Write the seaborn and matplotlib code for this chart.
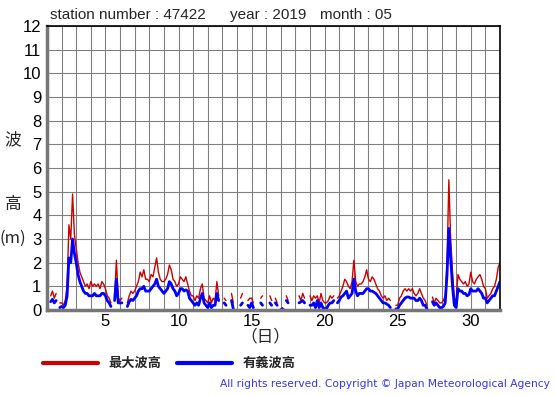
import numpy as np
import pandas as pd
import matplotlib
matplotlib.use("Agg")
import matplotlib.pyplot as plt
from matplotlib.lines import Line2D
import seaborn as sns

N = np.nan

# === Data: 3-hourly readings, day 1 00h .. day 32 00h (nan = missing) ===
# maximum wave height (m)
max_wave = [
    N, N, 0.6, 0.8, 0.5, 0.7, N, 0.3,            # 1
    0.3, 0.2, 0.4, 1.0, 3.6, 3.0, 4.9, 3.2,      # 2
    2.6, 2.0, 1.6, 1.4, 1.2, 1.0, 1.1, 0.9,      # 3
    1.2, 1.0, 1.1, 1.0, 1.1, 0.9, 1.2, 1.1,      # 4
    0.9, 0.6, 0.5, 0.3, N, 0.6, 2.1, 0.5,        # 5
    0.4, 0.5, N, N, 0.3, 0.6, 0.8, 0.7,          # 6
    0.8, 1.0, 1.2, 1.6, 1.4, 1.7, 1.3, 1.3,      # 7
    1.2, 1.5, 1.4, 1.8, 2.2, 1.6, 1.3, 1.2,      # 8
    1.2, 1.3, 1.5, 1.9, 1.7, 1.3, 1.2, 1.0,      # 9
    1.1, 1.4, 1.3, 1.2, 1.4, 1.1, 0.8, 0.6,      # 10
    0.6, 0.4, 0.6, 0.5, 0.9, 1.1, 0.5, 0.4,      # 11
    0.3, 0.6, 0.3, 0.5, 0.4, 1.2, 0.6, N,        # 12
    N, 0.5, 0.4, N, N, 0.7, 0.3, N,              # 13
    N, N, 0.5, 0.7, N, N, 0.4, 0.5,              # 14
    0.5, 0.3, N, N, N, 0.5, 0.6, N,              # 15
    N, N, 0.6, 0.4, N, 0.5, 0.3, N,              # 16
    0.05, 0.1, N, 0.6, 0.4, N, N, N,             # 17
    N, N, 0.6, 0.4, 0.7, 0.5, N, N,              # 18
    0.6, 0.4, 0.6, 0.5, 0.6, 0.3, 0.7, 0.4,      # 19
    0.3, 0.3, 0.4, 0.6, 0.5, 0.6, N, 0.5,        # 20
    0.6, 0.8, 1.0, 1.3, 1.2, 1.0, 0.9, 1.2,      # 21
    2.1, 1.2, 1.0, 1.1, 1.1, 1.2, 1.4, 1.7,      # 22
    1.3, 1.2, 1.4, 1.3, 1.1, 0.9, 0.8, 0.6,      # 23
    0.5, 0.6, 0.4, 0.5, 0.4, N, N, 0.2,          # 24
    0.2, 0.5, 0.6, 0.8, 0.9, 0.8, 0.9, 0.8,      # 25
    0.9, 0.7, 0.6, 0.7, 0.9, 0.7, 0.5, 0.4,      # 26
    0.2, N, N, 0.55, 0.3, 0.5, 0.4, 0.3,         # 27
    0.3, 0.4, 0.6, 2.0, 5.5, 3.0, 1.6, 0.5,      # 28
    0.4, 1.5, 1.3, 1.2, 1.1, 1.2, 1.0, 1.1,      # 29
    1.6, 1.2, 1.1, 1.3, 1.4, 1.5, 1.3, 1.0,      # 30
    0.9, 0.5, 0.6, 0.7, 0.9, 1.0, 1.3, 1.8,      # 31
    2.0,
]

# significant wave height (m)
sig_wave = [
    N, N, 0.35, 0.45, 0.3, 0.4, N, 0.1,          # 1
    0.15, 0.1, 0.2, 0.6, 2.2, 2.0, 3.0, 2.4,     # 2
    2.0, 1.5, 1.2, 1.0, 0.8, 0.7, 0.7, 0.6,      # 3
    0.6, 0.6, 0.7, 0.6, 0.6, 0.6, 0.7, 0.7,      # 4
    0.6, 0.4, 0.3, 0.15, N, 0.4, 1.3, 0.3,       # 5
    0.3, 0.3, N, N, 0.15, 0.35, 0.45, 0.4,       # 6
    0.5, 0.6, 0.8, 0.9, 0.9, 1.0, 0.8, 0.8,      # 7
    0.8, 0.9, 1.0, 1.1, 1.3, 1.0, 0.9, 0.8,      # 8
    0.7, 0.8, 0.9, 1.2, 1.1, 0.9, 0.8, 0.6,      # 9
    0.7, 0.9, 0.9, 0.8, 0.85, 0.8, 0.5, 0.4,     # 10
    0.3, 0.2, 0.3, 0.2, 0.5, 0.7, 0.3, 0.2,      # 11
    0.1, 0.3, 0.1, 0.2, 0.2, 0.7, 0.4, N,        # 12
    N, 0.3, 0.2, N, N, 0.4, 0.05, N,             # 13
    N, N, 0.2, 0.3, N, N, 0.2, 0.1,              # 14
    0.3, 0.1, N, N, N, 0.3, 0.2, N,              # 15
    N, N, 0.3, 0.2, N, 0.3, 0.2, N,              # 16
    0.05, 0.05, N, 0.4, 0.3, N, N, N,            # 17
    N, N, 0.3, 0.35, 0.4, 0.3, N, N,             # 18
    0.2, 0.2, 0.3, 0.1, 0.4, 0.1, 0.3, 0.1,      # 19
    0.05, 0.05, 0.2, 0.3, 0.3, 0.4, N, 0.3,      # 20
    0.4, 0.55, 0.6, 0.7, 0.8, 0.5, 0.6, 0.7,     # 21
    1.3, 0.8, 0.6, 0.7, 0.7, 0.7, 0.8, 0.9,      # 22
    0.9, 0.8, 0.8, 0.75, 0.7, 0.6, 0.5, 0.4,     # 23
    0.3, 0.3, 0.25, 0.2, 0.1, N, N, 0.05,        # 24
    0.05, 0.2, 0.3, 0.4, 0.5, 0.55, 0.55, 0.5,   # 25
    0.5, 0.5, 0.4, 0.4, 0.5, 0.4, 0.2, 0.2,      # 26
    0.05, N, N, 0.35, 0.2, 0.3, 0.2, 0.1,        # 27
    0.1, 0.15, 0.3, 1.5, 3.45, 2.2, 1.0, 0.2,    # 28
    0.1, 0.9, 0.8, 0.8, 0.7, 0.7, 0.6, 0.65,     # 29
    0.9, 0.8, 0.8, 0.8, 0.9, 0.8, 0.7, 0.5,      # 30
    0.5, 0.3, 0.4, 0.5, 0.6, 0.6, 0.8, 1.0,      # 31
    1.2,
]

days = np.arange(len(max_wave)) / 8 + 1
x_ticks = [5, 10, 15, 20, 25, 30]
y_ticks = list(range(0, 13))

RED = "#cc0000"
BLUE = "#0000ff"


def segments(values):
    # split series at missing points so the gaps stay open
    df = pd.DataFrame({"day": days, "h": values})
    df["seg"] = df["h"].isna().cumsum()
    return df.dropna()


sns.set_style("white")
plt.rcParams["font.family"] = ["Liberation Sans", "Noto Sans CJK JP", "DejaVu Sans"]

fig = plt.figure(figsize=(5.55, 3.95), dpi=100)
ax = fig.add_axes([47 / 555, 1 - 310 / 395, 453 / 555, 284 / 395])

sns.lineplot(data=segments(max_wave), x="day", y="h", units="seg",
             estimator=None, color=RED, lw=1.0, ax=ax)
sns.lineplot(data=segments(sig_wave), x="day", y="h", units="seg",
             estimator=None, color=BLUE, lw=2.0, ax=ax)

ax.set_xlim(1, 32)
ax.set_ylim(0, 12)
ax.set_xticks(range(1, 33), minor=True)
ax.set_xticks(x_ticks)
ax.set_yticks(y_ticks)
ax.grid(True, which="both", color="#808080", lw=0.8)
ax.set_axisbelow(True)
ax.tick_params(which="both", length=0, labelsize=12, colors="black")
ax.tick_params(axis="y", pad=4)
ax.tick_params(axis="x", pad=3)
ax.set_xlabel("")
ax.set_ylabel("")

for side in ["top", "right"]:
    ax.spines[side].set_color("black")
    ax.spines[side].set_linewidth(1.2)
for side in ["left", "bottom"]:
    ax.spines[side].set_color("#777777")
    ax.spines[side].set_linewidth(2.5)

# header
fig.text(50 / 555, 1 - 15 / 395, "station number : 47422", fontsize=11, va="center")
fig.text(230 / 555, 1 - 15 / 395, "year : 2019", fontsize=11, va="center")
fig.text(320 / 555, 1 - 15 / 395, "month : 05", fontsize=11, va="center")

# stacked y label
cjk = ["Noto Sans CJK JP", "DejaVu Sans"]
fig.text(13 / 555, 1 - 140 / 395, "波", fontsize=12, ha="center", va="center", family=cjk)
fig.text(13 / 555, 1 - 205 / 395, "高", fontsize=12, ha="center", va="center", family=cjk)
fig.text(13 / 555, 1 - 238 / 395, "(m)", fontsize=12, ha="center", va="center", family=cjk)

# x label
fig.text(265 / 555, 1 - 337 / 395, "（日）", fontsize=12, ha="center", va="center", family=cjk)

# legend
fig.add_artist(Line2D([43 / 555, 98 / 555], [1 - 363 / 395] * 2, color=RED, lw=3,
                      transform=fig.transFigure))
fig.text(108 / 555, 1 - 363 / 395, "最大波高", fontsize=9.5, weight="bold",
         va="center", family=cjk)
fig.add_artist(Line2D([177 / 555, 232 / 555], [1 - 363 / 395] * 2, color=BLUE, lw=3,
                      transform=fig.transFigure))
fig.text(243 / 555, 1 - 363 / 395, "有義波高", fontsize=9.5, weight="bold",
         va="center", family=cjk)

fig.text(550 / 555, 1 - 384 / 395,
         "All rights reserved. Copyright © Japan Meteorological Agency",
         fontsize=7.7, color="#3333ff", ha="right", va="center", family="DejaVu Sans")

fig.savefig("out.png", dpi=100)
